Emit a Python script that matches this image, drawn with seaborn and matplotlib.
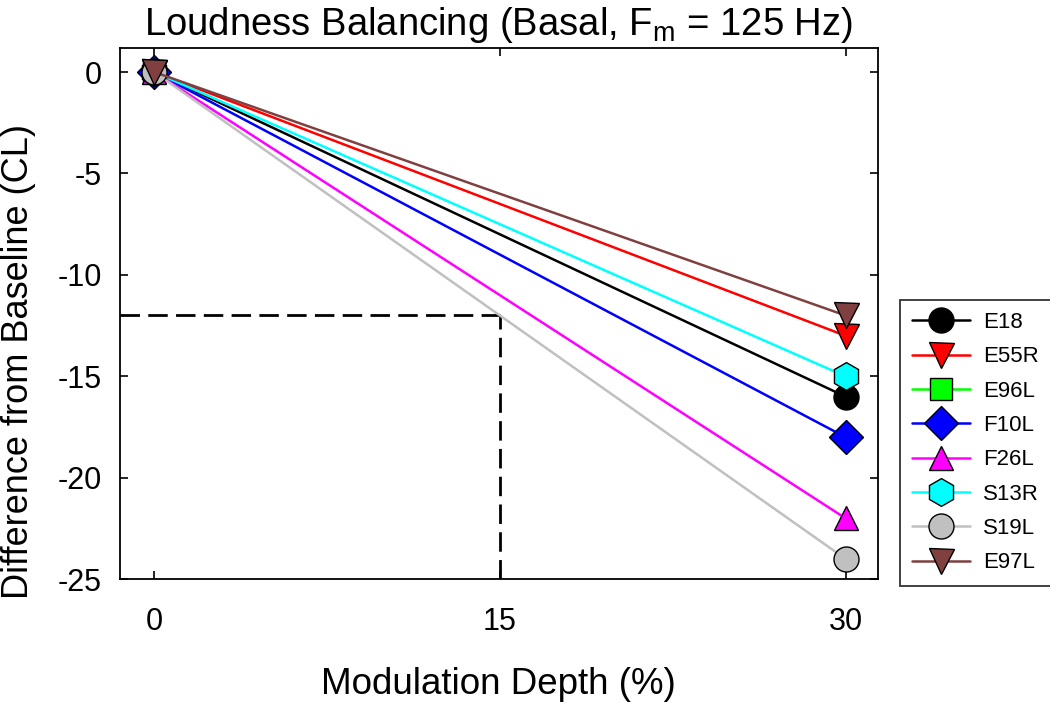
import numpy as np
import pandas as pd
import matplotlib
matplotlib.use('Agg')
import matplotlib.pyplot as plt
import seaborn as sns

# data
depth = [0, 30]
subjects = ['E18', 'E55R', 'E96L', 'F10L', 'F26L', 'S13R', 'S19L', 'E97L']
values = {
    'E18': [0, -16],
    'E55R': [0, -13],
    'E96L': [0, np.nan],
    'F10L': [0, -18],
    'F26L': [0, -22],
    'S13R': [0, -15],
    'S19L': [0, -24],
    'E97L': [0, -12],
}
colors = ['#000000', '#ff0000', '#00ff00', '#0000ff', '#ff00ff', '#00ffff', '#c0c0c0', '#804040']
markers = ['o', 'v', 's', 'D', '^', 'h', 'o', 'v']
msizes = [18, 18, 16, 17, 17, 20, 18, 18]
ref_y = -12
ref_x = 15
yticks = [0, -5, -10, -15, -20, -25]
xticks = [0, 15, 30]

sns.set_style('ticks')
plt.rcParams['font.family'] = ['Liberation Sans', 'DejaVu Sans']
plt.rcParams['mathtext.fontset'] = 'custom'
plt.rcParams['mathtext.rm'] = 'Liberation Sans'
plt.rcParams['mathtext.it'] = 'Liberation Sans'
plt.rcParams['axes.unicode_minus'] = False
plt.rcParams['text.color'] = 'black'
plt.rcParams['axes.labelcolor'] = 'black'
plt.rcParams['xtick.color'] = 'black'
plt.rcParams['ytick.color'] = 'black'

fig = plt.figure(figsize=(10.5, 7.02), dpi=100)
ax = fig.add_axes([0.114, 0.175, 0.722, 0.757])

# reference dashed lines
ax.plot([-1.5, ref_x], [ref_y, ref_y], color='black', ls=(0, (7, 3)), lw=2, zorder=1)
ax.plot([ref_x, ref_x], [-25, ref_y], color='black', ls=(0, (7, 3)), lw=2, zorder=1)

for i, s in enumerate(subjects):
    df = pd.DataFrame({'depth': depth, 'diff': values[s]})
    sns.lineplot(data=df, x='depth', y='diff', ax=ax, color=colors[i], marker=markers[i],
                 markersize=msizes[i], markeredgecolor='black', markeredgewidth=1.0,
                 linewidth=1.8, label=s, zorder=2 + i)

ax.set_xlim(-1.5, 31.4)
ax.set_ylim(-25, 1.2)
ax.set_xticks(xticks)
ax.set_yticks(yticks)
ax.tick_params(direction='in', length=6, width=1.2, labelsize=22, top=True, right=True,
               labeltop=False, labelright=False)
ax.tick_params(axis='x', pad=20)
ax.tick_params(axis='y', pad=13)
for sp in ax.spines.values():
    sp.set_linewidth(1.3)
    sp.set_color('black')

ax.set_title('Loudness Balancing (Basal, F$_\\mathrm{m}$ = 125 Hz)', fontsize=27.5, pad=9)
ax.set_xlabel('Modulation Depth (%)', fontsize=26.5, labelpad=22)
ax.set_ylabel('Difference from Baseline (CL)', fontsize=26)
ax.yaxis.set_label_coords(-0.11, 0.41)

leg = ax.legend(loc='upper left', bbox_to_anchor=(0.857, 0.573), bbox_transform=fig.transFigure,
                fontsize=16, frameon=True, fancybox=False, handlelength=2.6, markerscale=1.0,
                borderpad=0.55, labelspacing=0.6, handletextpad=0.6, borderaxespad=0)
leg.get_frame().set_edgecolor('black')
leg.get_frame().set_linewidth(1.3)

fig.savefig('out.png', dpi=100)
